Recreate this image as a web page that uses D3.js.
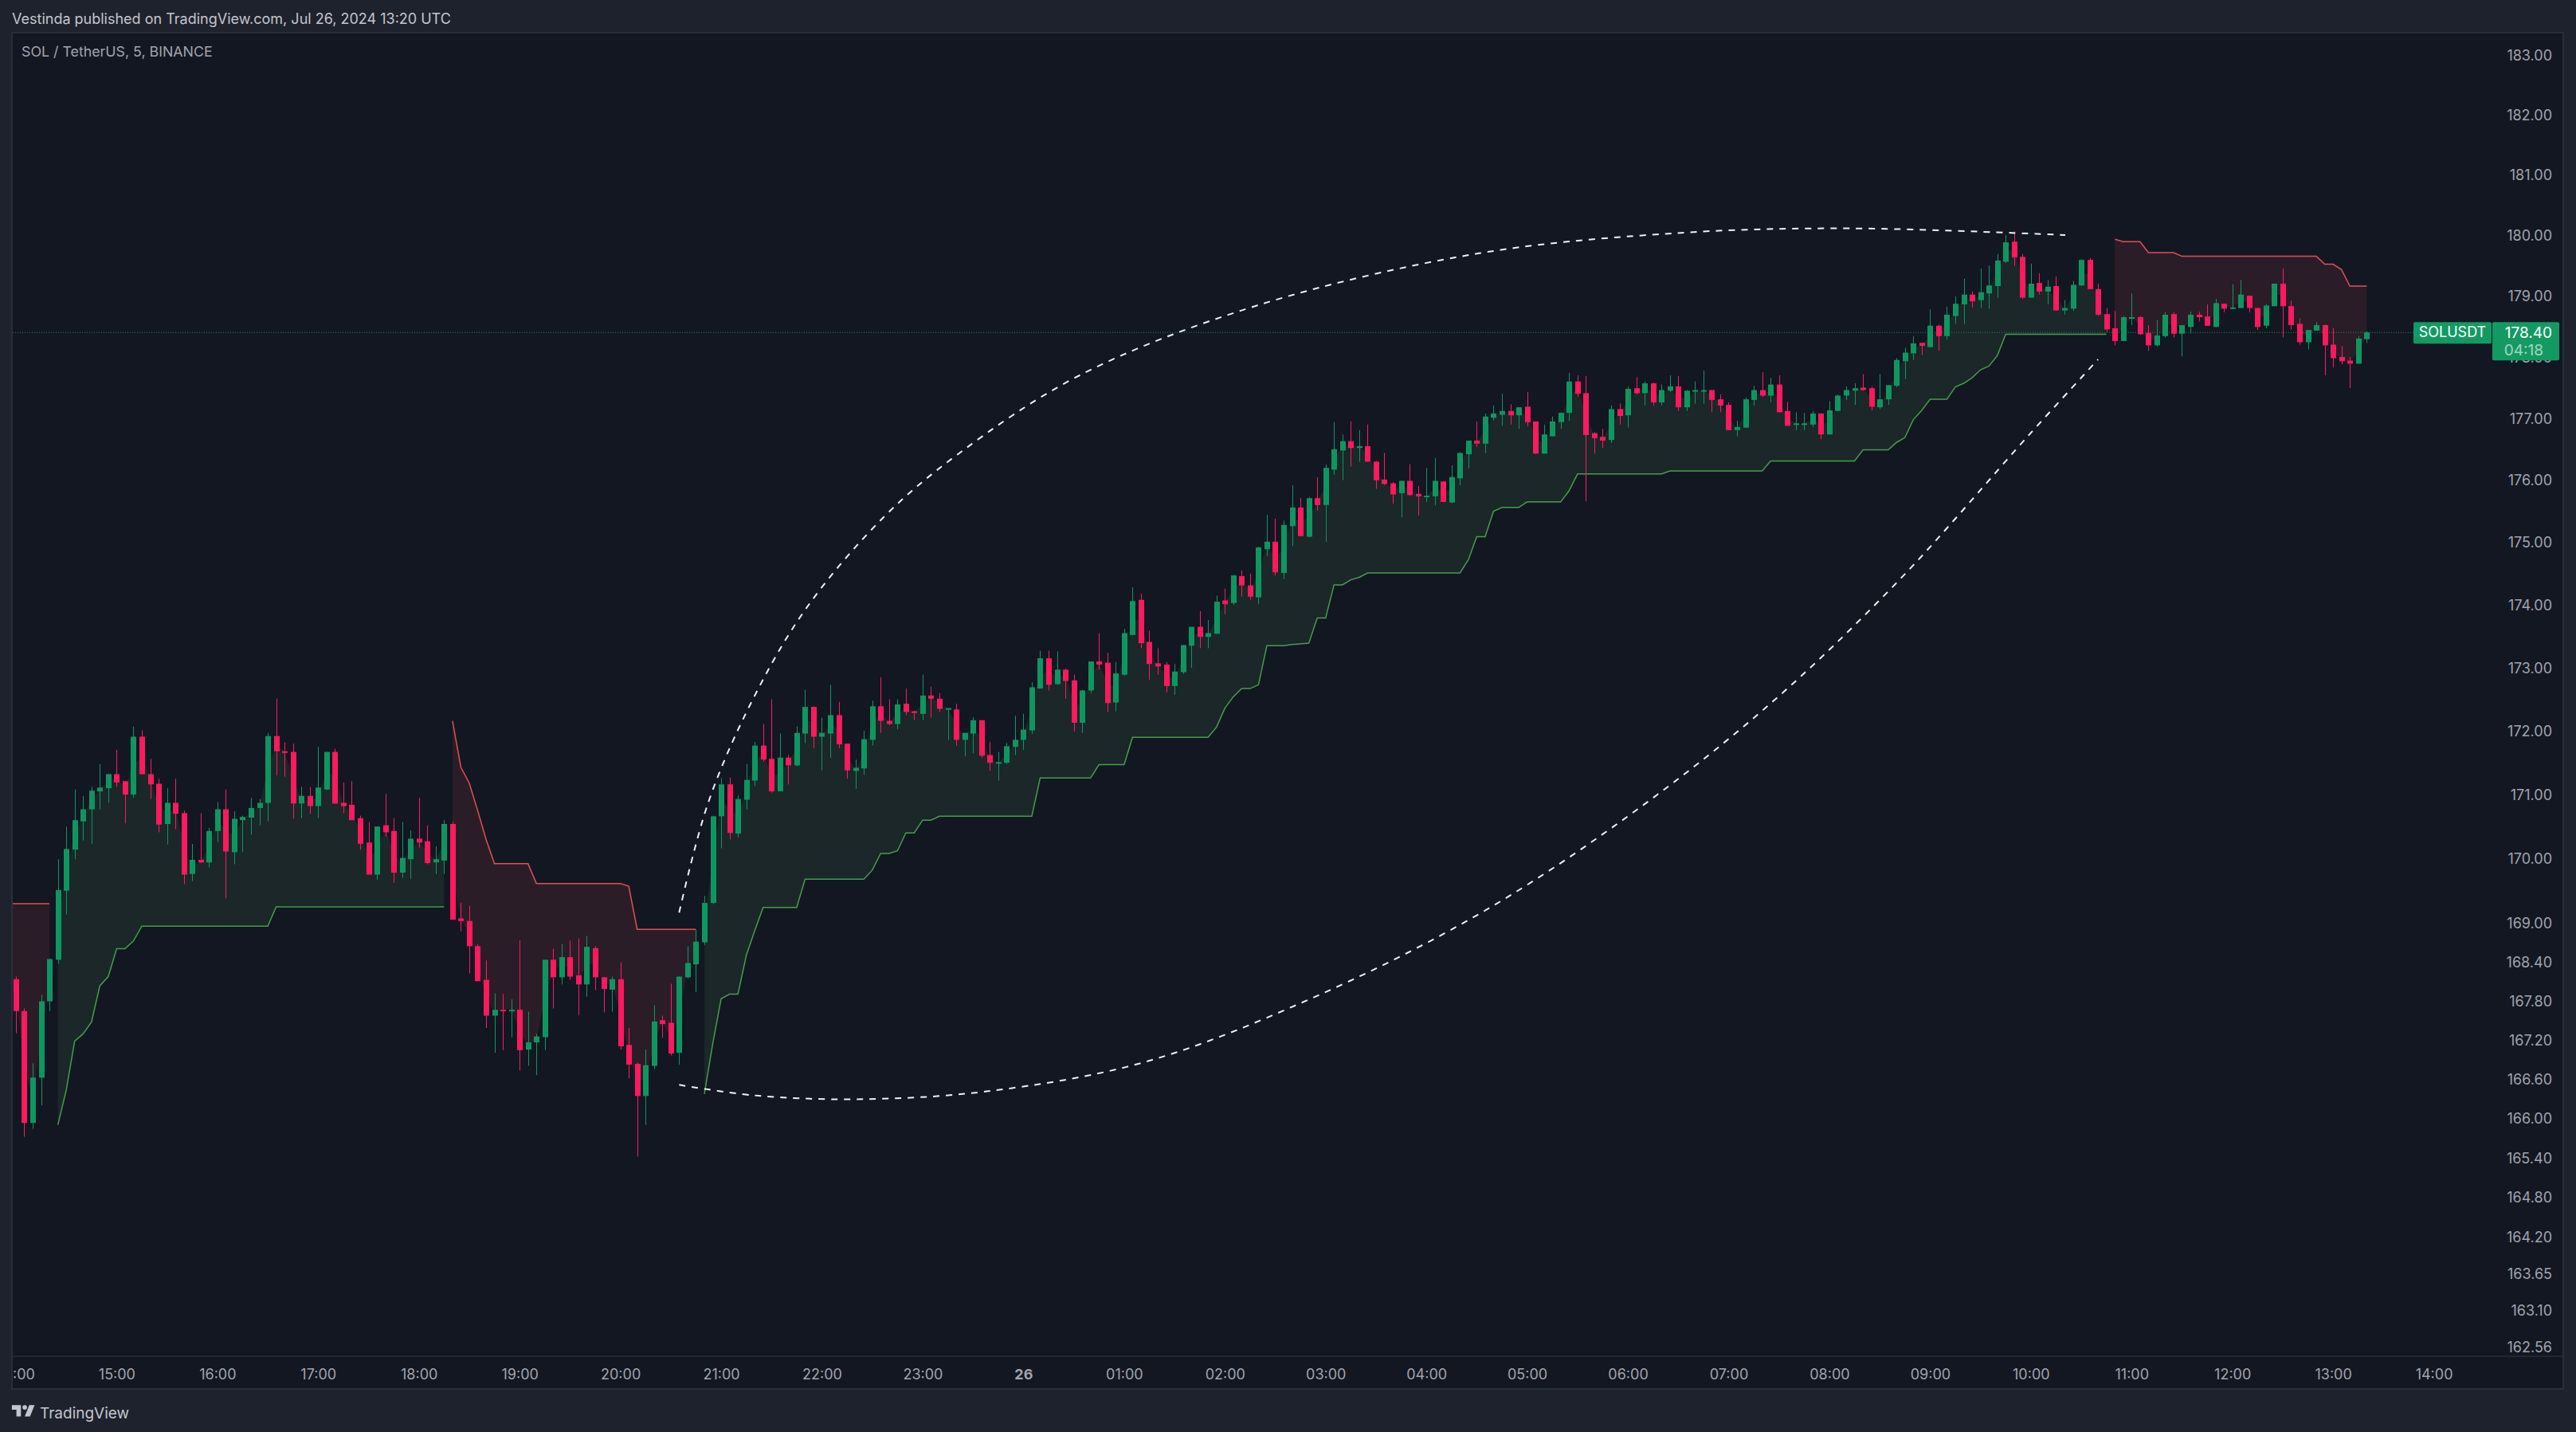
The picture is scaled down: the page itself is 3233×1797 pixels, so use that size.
<!DOCTYPE html>
<html>
<head>
<meta charset="utf-8">
<title>SOL / TetherUS, 5, BINANCE</title>
<script src="https://cdn.jsdelivr.net/npm/d3@7/dist/d3.min.js"></script>
<style>
  html, body { margin: 0; padding: 0; background: #1e222d; }
  svg { display: block; }
  text { font-family: Inter, "Noto Sans", sans-serif; }
</style>
</head>
<body>
<svg id="chart" width="3233" height="1797"></svg>
<script>
// Five-minute candles; the first entry is the 13:55 bar, the one after it the 14:00 bar.
const firstBar = -1;
const opens = [168.20,
168.13,167.64,165.93,166.62,167.79,168.43,169.50,170.14,170.58,170.77,
171.05,171.10,171.32,171.21,171.00,171.91,171.32,171.17,170.54,170.87,
170.71,169.76,169.98,169.94,170.43,170.77,170.10,170.60,170.64,170.79,
170.87,171.92,171.68,171.67,170.86,170.98,170.82,171.08,171.67,170.87,
170.84,170.63,170.25,169.75,170.52,170.43,169.78,169.99,170.31,170.27,
169.94,169.97,170.54,169.07,169.03,168.64,168.12,167.57,167.66,167.65,
167.66,167.05,167.16,167.24,168.43,168.16,168.47,168.19,168.05,168.61,
168.16,167.97,168.13,167.12,166.83,166.34,166.80,167.50,167.46,167.00,
168.16,168.36,168.70,169.31,170.66,171.16,170.39,170.92,171.22,171.77,
171.56,171.05,171.58,171.46,171.96,172.38,171.91,171.96,172.25,171.80,
171.37,171.41,171.86,172.39,172.16,172.11,172.43,172.31,172.27,172.56,
172.51,172.35,172.34,171.86,171.96,172.17,171.62,171.50,171.50,171.75,
171.86,172.01,172.67,173.15,172.74,172.97,172.80,172.13,172.64,173.10,
173.08,172.45,172.89,173.52,174.08,173.41,173.07,173.05,172.71,172.93,
173.35,173.65,173.49,173.54,174.07,174.03,174.46,174.31,174.12,174.89,
175.01,174.51,175.26,175.56,175.09,175.71,175.60,176.17,176.48,176.63,
176.52,176.55,176.30,176.01,175.95,175.79,175.99,175.78,175.74,175.74,
175.98,175.64,176.03,176.42,176.64,176.59,177.01,177.06,177.12,177.05,
177.19,176.95,176.43,176.71,176.94,177.09,177.60,177.41,176.76,176.70,
176.65,177.15,177.05,177.49,177.41,177.57,177.26,177.45,177.52,177.18,
177.44,177.45,177.46,177.31,177.22,176.81,176.85,177.30,177.46,177.37,
177.55,177.12,176.91,176.91,176.90,177.08,176.74,177.12,177.37,177.45,
177.50,177.49,177.18,177.31,177.53,177.93,178.06,178.23,178.16,178.51,
178.34,178.67,178.86,179.02,178.93,179.04,179.16,179.56,179.89,179.64,
178.97,179.21,179.07,179.16,178.76,178.79,179.17,179.59,179.11,178.70,
178.47,178.26,178.64,178.65,178.39,178.19,178.34,178.70,178.38,178.49,
178.69,178.66,178.49,178.87,178.79,178.80,179.00,178.80,178.51,178.83,
179.20,178.83,178.54,178.24,178.43,178.52,178.20,178.00,177.94,177.89,178.29];

const highs = [168.40,
168.17,167.68,166.84,167.89,168.45,169.99,170.50,171.08,170.98,171.12,
171.48,171.33,171.70,171.21,172.07,172.01,171.56,171.25,171.10,171.25,
170.75,170.23,170.71,170.48,170.88,171.08,170.74,170.67,170.95,170.93,
171.97,172.51,171.82,171.80,171.12,171.12,171.75,171.67,171.72,171.19,
171.21,170.67,170.57,170.50,171.01,170.63,170.57,170.44,170.95,170.52,
170.19,170.60,170.58,169.31,169.26,168.67,168.42,167.91,167.90,167.82,
168.73,167.63,167.29,168.43,168.60,168.67,168.73,168.76,168.80,168.64,
168.16,168.17,168.39,167.38,166.85,167.05,167.73,167.57,168.06,168.17,
168.64,168.89,169.42,170.67,171.26,171.27,170.99,171.48,171.83,172.11,
172.50,171.96,171.62,172.07,172.65,172.39,172.21,172.73,172.46,171.80,
171.55,172.00,172.48,172.85,172.50,172.50,172.67,172.32,172.89,172.70,
172.60,172.36,172.43,171.97,172.22,172.17,171.83,171.67,171.81,172.24,
172.27,172.77,173.27,173.27,173.26,172.99,172.89,172.65,173.10,173.55,
173.24,173.09,173.62,174.28,174.18,173.59,173.31,173.09,173.06,173.36,
173.65,173.90,173.76,174.15,174.26,174.48,174.55,174.50,174.93,175.44,
175.38,175.35,175.92,175.71,175.73,176.05,176.25,176.94,176.74,176.95,
176.81,176.90,176.31,176.44,175.97,175.99,176.26,175.91,176.20,176.36,
175.98,176.24,176.45,176.64,176.95,177.08,177.21,177.40,177.23,177.18,
177.43,176.95,176.90,177.03,177.10,177.74,177.70,177.69,176.78,176.83,
177.21,177.24,177.52,177.67,177.60,177.58,177.55,177.70,177.69,177.46,
177.60,177.78,177.46,177.39,177.26,176.96,177.34,177.53,177.75,177.66,
177.70,177.27,177.10,177.09,177.12,177.08,177.28,177.39,177.52,177.57,
177.72,177.52,177.72,177.54,177.98,178.15,178.34,178.23,178.78,178.53,
178.82,178.99,179.28,179.07,179.45,179.50,179.69,180.00,180.06,179.69,
179.53,179.37,179.26,179.32,178.93,179.24,179.60,179.62,179.20,178.80,
178.75,178.67,179.04,178.67,178.52,178.60,178.73,178.73,178.52,178.74,
178.74,178.86,178.95,178.87,179.19,179.26,179.00,178.80,178.86,179.20,
179.45,178.92,178.63,178.44,178.57,178.53,178.47,178.18,178.00,178.34,178.42];

const lows = [167.85,
167.30,165.72,165.84,166.20,167.64,168.37,169.13,169.99,170.28,170.23,
170.77,170.87,171.12,170.55,170.95,171.32,170.93,170.41,170.22,170.46,
169.60,169.65,169.93,169.86,170.26,169.38,169.91,170.10,170.37,170.52,
170.58,171.30,171.28,170.62,170.63,170.70,170.63,171.07,170.86,170.71,
170.60,170.14,169.75,169.67,170.34,169.62,169.70,169.68,170.17,169.91,
169.76,169.76,169.05,168.87,168.22,168.10,167.38,167.00,167.04,167.24,
166.73,166.80,166.66,167.04,167.68,168.05,168.12,167.58,167.86,167.96,
167.62,167.63,167.05,166.61,165.42,165.90,166.75,167.23,166.96,166.82,
168.14,167.93,168.66,169.29,170.16,170.30,170.33,170.77,171.13,171.52,
171.03,171.05,171.16,171.44,171.81,171.73,171.38,171.58,171.73,171.25,
171.09,171.31,171.77,171.97,172.09,172.03,172.25,172.17,172.17,172.21,
172.30,171.86,171.77,171.60,171.65,171.58,171.37,171.22,171.48,171.62,
171.70,171.96,172.67,172.64,172.73,172.51,171.99,171.97,172.60,172.97,
172.30,172.31,172.87,173.52,173.31,172.81,172.89,172.61,172.57,172.90,
173.00,173.31,173.31,173.54,173.85,174.00,174.13,174.08,174.01,174.78,
174.47,174.41,174.94,175.10,175.08,175.51,175.01,176.09,176.00,176.22,
176.30,176.30,175.86,175.92,175.62,175.40,175.75,175.43,175.65,175.60,
175.65,175.64,175.92,176.19,176.54,176.44,176.97,176.88,176.90,176.83,
176.87,176.42,176.43,176.71,176.83,176.96,177.35,175.66,176.43,176.52,
176.60,176.90,176.85,177.39,177.21,177.21,177.21,177.43,177.12,177.12,
177.24,177.24,177.10,177.10,176.81,176.71,176.85,177.21,177.35,177.26,
177.10,176.88,176.81,176.81,176.86,176.66,176.74,177.12,177.30,177.22,
177.45,177.13,177.15,177.22,177.51,177.64,177.95,178.03,178.16,178.10,
178.28,178.54,178.54,178.81,178.80,178.79,178.97,179.54,179.49,178.95,
178.97,179.02,178.86,178.76,178.69,178.75,179.16,179.11,178.67,178.41,
178.19,178.26,178.52,178.37,178.10,178.17,178.31,178.32,178.01,178.38,
178.58,178.51,178.49,178.73,178.79,178.80,178.73,178.44,178.47,178.83,
178.32,178.45,178.20,178.12,178.43,177.70,177.83,177.88,177.49,177.89,178.23];

const closes = [167.95,
167.64,165.93,166.62,167.79,168.44,169.51,170.15,170.60,170.77,171.06,
171.11,171.32,171.19,171.00,171.91,171.32,171.16,170.53,170.87,170.70,
169.75,169.98,169.94,170.43,170.77,170.11,170.62,170.65,170.79,170.87,
171.92,171.68,171.66,170.86,170.98,170.82,171.11,171.67,170.86,170.82,
170.60,170.23,169.75,170.50,170.41,169.78,170.01,170.31,170.25,169.93,
169.99,170.54,169.05,169.03,168.64,168.10,167.57,167.66,167.65,167.66,
167.04,167.16,167.25,168.43,168.16,168.47,168.17,168.05,168.63,168.16,
167.98,168.13,167.10,166.82,166.34,166.81,167.48,167.44,166.99,168.17,
168.38,168.71,169.31,170.66,171.16,170.40,170.93,171.23,171.77,171.55,
171.05,171.58,171.46,171.97,172.38,171.91,171.97,172.25,171.79,171.38,
171.42,171.87,172.39,172.16,172.11,172.42,172.30,172.30,172.56,172.51,
172.35,172.36,171.86,171.97,172.17,171.61,171.50,171.51,171.76,171.86,
172.02,172.69,173.15,172.73,172.97,172.79,172.13,172.64,173.10,173.05,
172.44,172.91,173.55,174.06,173.39,173.06,173.02,172.71,172.94,173.36,
173.65,173.49,173.55,174.05,174.01,174.47,174.31,174.13,174.92,175.01,
174.52,175.28,175.56,175.10,175.71,175.60,176.20,176.50,176.63,176.52,
176.55,176.30,176.00,175.94,175.77,175.99,175.76,175.74,175.75,175.99,
175.65,176.05,176.44,176.64,176.59,177.03,177.08,177.12,177.05,177.18,
176.94,176.43,176.74,176.95,177.09,177.60,177.40,176.73,176.68,176.64,
177.15,177.04,177.48,177.41,177.57,177.26,177.46,177.52,177.18,177.45,
177.46,177.46,177.30,177.21,176.81,176.86,177.31,177.46,177.37,177.55,
177.10,176.88,176.92,176.92,177.08,176.74,177.13,177.37,177.46,177.49,
177.46,177.19,177.31,177.54,177.95,178.07,178.22,178.18,178.51,178.34,
178.69,178.87,179.02,178.91,179.06,179.17,179.58,179.88,179.63,178.97,
179.20,179.07,179.15,178.76,178.80,179.18,179.59,179.11,178.69,178.45,
178.26,178.65,178.65,178.37,178.19,178.35,178.69,178.38,178.52,178.69,
178.65,178.51,178.88,178.79,178.81,179.02,178.80,178.49,178.84,179.20,
178.83,178.52,178.24,178.44,178.52,178.19,177.98,177.93,177.89,178.30,178.40];

// Trailing stop, one array per trend leg. Each leg starts on the bar after the previous one ends.
const resistanceA = [169.30,169.30,169.30,169.30,169.30,169.30];
const resistanceAStart = -1;
const supportA = [165.90,166.43,167.18,167.29,167.47,168.03,168.17,168.60,168.60,168.72,
168.95,168.95,168.95,168.95,168.95,168.95,168.95,168.95,168.95,168.95,168.95,168.95,168.95,168.95,168.95,168.95,
169.25,169.25,169.25,169.25,169.25,169.25,169.25,169.25,169.25,169.25,169.25,169.25,169.25,169.25,169.25,169.25,169.25,169.25,169.25,169.25,169.25];
const supportAStart = 5;
const resistanceB = [172.16,171.43,171.18,170.75,170.30,
169.92,169.92,169.92,169.92,169.92,
169.61,169.61,169.61,169.61,169.61,169.61,169.61,169.61,169.61,169.61,169.61,
169.57,
168.90,168.90,168.90,168.90,168.90,168.90,168.90,168.90];
const resistanceBStart = 52;
const supportB = [166.37,167.14,167.83,167.90,167.90,168.50,168.88,
169.24,169.24,169.24,169.24,169.24,
169.68,169.68,169.68,169.68,169.68,169.68,169.68,169.68,
169.82,170.08,170.08,170.12,170.40,170.40,170.60,170.60,
170.66,170.66,170.66,170.66,170.66,170.66,170.66,170.66,170.66,170.66,170.66,170.66,
171.26,171.26,171.26,171.26,171.26,171.26,171.26,
171.47,171.47,171.47,171.47,
171.90,171.90,171.90,171.90,171.90,171.90,171.90,171.90,171.90,171.90,
172.06,172.36,172.54,172.67,172.67,172.73,
173.35,173.35,173.35,173.37,173.38,173.39,173.79,173.79,174.32,174.32,174.40,174.44,
174.51,174.51,174.51,174.51,174.51,174.51,174.51,174.51,174.51,174.51,174.51,174.51,
174.72,175.09,175.09,175.50,175.56,175.56,175.56,
175.65,175.65,175.65,175.65,175.65,175.83,
176.10,176.10,176.10,176.10,176.10,176.10,176.10,176.10,176.10,176.10,176.10,
176.15,176.15,176.15,176.15,176.15,176.15,176.15,176.15,176.15,176.15,176.15,176.15,
176.31,176.31,176.31,176.31,176.31,176.31,176.31,176.31,176.31,176.31,176.31,
176.49,176.49,176.49,176.49,176.61,176.69,176.98,177.13,
177.31,177.31,177.31,177.51,177.57,177.66,177.79,177.85,178.02,
178.37,178.37,178.37,178.37,178.37,178.37,178.37,178.37,178.37,178.37,178.37,178.37,178.37];
const supportBStart = 82;
const resistanceC = [179.93,179.89,179.89,179.89,179.71,179.71,179.71,179.71,
179.65,179.65,179.65,179.65,179.65,179.65,179.65,179.65,179.65,179.65,179.65,179.65,179.65,179.65,179.65,179.65,179.65,
179.52,179.52,179.43,179.16,179.16,179.16];
const resistanceCStart = 250;

// Hand-drawn arcs around the rally, as bar number and price.
const upperArcBars = [79.0,82.4,87.4,94.0,103.4,112.3,126.7,147.8,174.3,198.7,218.6,244.1];
const upperArcPrices = [169.16,170.85,172.40,173.92,175.41,176.43,177.70,178.84,179.70,180.04,180.11,180.00];
const lowerArcBars = [79.0,87.9,100.1,115.6,134.5,154.4,174.3,192.1,208.7,224.2,239.7,248.0];
const lowerArcPrices = [166.51,166.35,166.29,166.41,166.86,167.84,169.14,170.67,172.40,174.38,176.72,177.96];

// Axis content.
const priceTicks = [183,182,181,180,179,178,177,176,175,174,173,172,171,170,169,168.4,167.8,167.2,166.6,166,165.4,164.8,164.2,163.65,163.1,162.56];
const timeTickBars = [0,12,24,36,48,60,72,84,96,108,120,132,144,156,168,180,192,204,216,228,240,252,264,276,288];
const timeTickLabels = ["14:00","15:00","16:00","17:00","18:00","19:00","20:00","21:00","22:00","23:00","26","01:00","02:00","03:00","04:00","05:00","06:00","07:00","08:00","09:00","10:00","11:00","12:00","13:00","14:00"];
const lastPrice = 178.40;
const countdown = "04:18";
const symbolTag = "SOLUSDT";
const headerLine = "Vestinda published on TradingView.com, Jul 26, 2024 13:20 UTC";
const legendLine = "SOL / TetherUS, 5, BINANCE";

const colors = {
  page: "#1e222d", pane: "#131722", edge: "#2a2e39",
  up: "#0f9660", down: "#ff1a5e", tag: "#139a63",
  upLine: "#43a047", downLine: "#e2504f", upFill: "#1b2728", downFill: "#2b1d28",
  arc: "#f0f1f4", header: "#c3c6ce", muted: "#a1a4ad"
};

const pane = { left: 16, top: 41, right: 3217, bottom: 1743, timeAxisTop: 1702 };

const bars = opens.map((o, k) => ({ bar: k + firstBar, o, h: highs[k], l: lows[k], c: closes[k] }));
const barAt = b => bars[b - firstBar];

const x = d3.scaleLinear().domain([0, 280]).range([19.95, 2970.3]);
const y = d3.scaleLog().domain([183, 162.56]).range([68.7, 1690]);
const px = b => Math.round(x(b));

const svg = d3.select("#chart");
svg.append("rect").attr("width", 3233).attr("height", 1797).attr("fill", colors.page);
svg.append("rect")
  .attr("x", pane.left - 1).attr("y", pane.top)
  .attr("width", pane.right - pane.left + 1).attr("height", pane.bottom - pane.top)
  .attr("fill", colors.pane).attr("stroke", colors.edge).attr("stroke-width", 2);
svg.append("line")
  .attr("x1", pane.left).attr("x2", pane.right)
  .attr("y1", pane.timeAxisTop).attr("y2", pane.timeAxisTop)
  .attr("stroke", colors.edge).attr("stroke-width", 1.5);

const defs = svg.append("defs");
defs.append("clipPath").attr("id", "plotClip").append("rect")
  .attr("x", pane.left).attr("y", pane.top)
  .attr("width", pane.right - pane.left).attr("height", pane.timeAxisTop - pane.top - 1);
defs.append("clipPath").attr("id", "timeClip").append("rect")
  .attr("x", pane.left).attr("y", pane.timeAxisTop)
  .attr("width", pane.right - pane.left).attr("height", pane.bottom - pane.timeAxisTop);

const plot = svg.append("g").attr("clip-path", "url(#plotClip)");

// Trend legs: shaded band from the stop to the body midpoint, with the stop on its edge.
const legs = [
  { values: resistanceA, start: resistanceAStart, fill: colors.downFill, stroke: colors.downLine },
  { values: supportA, start: supportAStart, fill: colors.upFill, stroke: colors.upLine },
  { values: resistanceB, start: resistanceBStart, fill: colors.downFill, stroke: colors.downLine },
  { values: supportB, start: supportBStart, fill: colors.upFill, stroke: colors.upLine },
  { values: resistanceC, start: resistanceCStart, fill: colors.downFill, stroke: colors.downLine }
];
const bandArea = d3.area().x(d => x(d.bar)).y0(d => y(d.stop)).y1(d => y(d.mid));
const stopLine = d3.line().x(d => x(d.bar)).y(d => y(d.stop));
legs.forEach(leg => {
  const pts = leg.values.map((stop, k) => {
    const b = barAt(leg.start + k);
    return { bar: b.bar, stop, mid: (b.o + b.c) / 2 };
  });
  plot.append("path").attr("d", bandArea(pts)).attr("fill", leg.fill);
  plot.append("path").attr("d", stopLine(pts)).attr("fill", "none")
    .attr("stroke", leg.stroke).attr("stroke-width", 1.5);
});

// Dotted last-price line, running up to the symbol tag.
plot.append("line")
  .attr("x1", pane.left).attr("x2", 3029)
  .attr("y1", y(lastPrice)).attr("y2", y(lastPrice))
  .attr("stroke", colors.up).attr("stroke-width", 1).attr("stroke-dasharray", "1 2");

// Candles: a 1px wick and a 7px body, both snapped to whole pixels.
const candle = plot.selectAll("g.candle").data(bars).join("g")
  .attr("class", "candle")
  .attr("fill", d => d.c >= d.o ? colors.up : colors.down);
candle.append("rect")
  .attr("x", d => px(d.bar)).attr("width", 1)
  .attr("y", d => y(d.h)).attr("height", d => y(d.l) - y(d.h));
candle.append("rect")
  .attr("x", d => px(d.bar) - 3).attr("width", 7)
  .attr("y", d => y(Math.max(d.o, d.c)))
  .attr("height", d => Math.max(2, Math.abs(y(d.o) - y(d.c))));

// Dashed arcs.
const arcPath = d3.line().curve(d3.curveCatmullRom.alpha(0.5)).x(d => x(d[0])).y(d => y(d[1]));
[[upperArcBars, upperArcPrices], [lowerArcBars, lowerArcPrices]].forEach(([bs, ps]) => {
  plot.append("path")
    .attr("d", arcPath(d3.zip(bs, ps)))
    .attr("fill", "none").attr("stroke", colors.arc)
    .attr("stroke-width", 2).attr("stroke-dasharray", "8 8");
});

// Price axis.
const priceAxis = d3.axisRight(y).tickValues(priceTicks).tickSize(0).tickFormat(d3.format(".2f"));
const priceG = svg.append("g").attr("transform", "translate(3203,0)").call(priceAxis);
priceG.select(".domain").remove();
priceG.selectAll("text")
  .attr("x", 0).attr("dy", "0.35em").attr("text-anchor", "end")
  .attr("fill", colors.muted).style("font-size", "18px")
  .style("font-family", "Inter, sans-serif");

// Time axis; the day boundary label is bold and the leftmost hour runs off the pane edge.
const timeAxis = d3.axisBottom(x).tickValues(timeTickBars).tickSize(0)
  .tickFormat((d, k) => timeTickLabels[k]);
const timeG = svg.append("g").attr("clip-path", "url(#timeClip)")
  .append("g").attr("transform", "translate(0,1724.5)").call(timeAxis);
timeG.select(".domain").remove();
timeG.selectAll("text")
  .attr("y", 0).attr("dy", "0.35em").attr("text-anchor", "middle")
  .attr("fill", colors.muted).style("font-size", "18px")
  .style("font-family", "Inter, sans-serif")
  .style("font-weight", (d, k) => timeTickLabels[k].length === 2 ? 700 : 400);

// Last-price tags.
const tagY = y(lastPrice);
svg.append("rect").attr("x", 3029).attr("y", tagY - 13).attr("width", 98).attr("height", 27)
  .attr("rx", 2).attr("fill", colors.tag);
svg.append("rect").attr("x", 3128).attr("y", tagY - 13).attr("width", 84).attr("height", 48)
  .attr("rx", 2).attr("fill", colors.tag);
svg.append("text").attr("x", 3078).attr("y", tagY).attr("dy", "0.35em")
  .attr("text-anchor", "middle").attr("fill", "#ffffff").style("font-size", "18px").text(symbolTag);
svg.append("text").attr("x", 3203).attr("y", tagY).attr("dy", "0.35em")
  .attr("text-anchor", "end").attr("fill", "#ffffff").style("font-size", "19px")
  .text(d3.format(".2f")(lastPrice));
svg.append("text").attr("x", 3192).attr("y", tagY + 22).attr("dy", "0.35em")
  .attr("text-anchor", "end").attr("fill", "#ffffff").attr("fill-opacity", 0.62)
  .style("font-size", "19px").text(countdown);

// Header, legend and footer.
svg.append("text").attr("x", 15).attr("y", 24).attr("dy", "0.35em")
  .attr("fill", colors.header).style("font-size", "18px").text(headerLine);
svg.append("text").attr("x", 27).attr("y", 64.5).attr("dy", "0.35em")
  .attr("fill", colors.muted).style("font-size", "17.8px").text(legendLine);
svg.append("path")
  .attr("transform", "translate(13,1757.5) scale(0.95,0.95)")
  .attr("d", "M14 6H2v6h6v9h6V6zm12 15h-7l6-15h7l-6 15zm-7-9a3 3 0 1 0 0-6 3 3 0 0 0 0 6z")
  .attr("fill", colors.header);
svg.append("text").attr("x", 50).attr("y", 1773).attr("dy", "0.35em")
  .attr("fill", colors.header).style("font-size", "19px").text("TradingView");
</script>
</body>
</html>
